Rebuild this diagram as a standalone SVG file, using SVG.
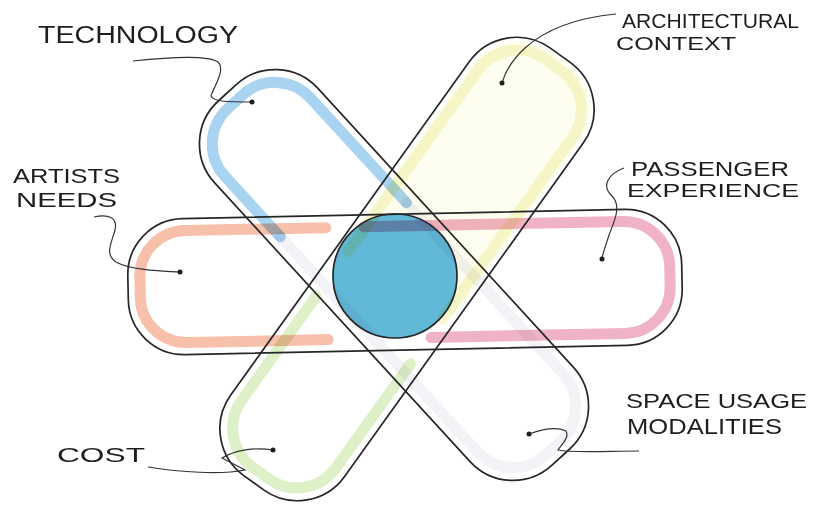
<svg xmlns="http://www.w3.org/2000/svg" width="819" height="514" viewBox="0 0 819 514">
<style>
.outline{fill:none;stroke:#262626;stroke-width:1.7}
.hl{fill:none;stroke-width:11;stroke-linecap:round;stroke-linejoin:round;mix-blend-mode:multiply}
.lbl{font-family:"Liberation Sans",Arial,sans-serif;fill:#1e1e1e}
.leader{fill:none;stroke:#333;stroke-width:1.2}
.dot{fill:#1e1e1e}
</style>
<rect width="819" height="514" fill="#ffffff"/>

<!-- faint yellow wash -->
<path transform="translate(407,269) rotate(125.6)" d="M 10,-66 L -205,-66 A 56 56 0 0 0 -261,-10 L -261,10 A 56 56 0 0 0 -205,66 L 10,66 Z" fill="#fdfdf0" style="mix-blend-mode:multiply"/>

<g id="center-circle">
<circle cx="395" cy="276" r="62" fill="#62b8d7"/>
</g>

<g id="technology">
<path class="hl" stroke="#a8d3f1" transform="translate(394,275) rotate(47.5)" d="M -105,58 L -187,58 A 48 48 0 0 1 -235,10 L -235,-10 A 48 48 0 0 1 -187,-58 L -45,-58"/>
<text class="lbl" x="38" y="43" font-size="23" textLength="200" lengthAdjust="spacingAndGlyphs">TECHNOLOGY</text>
</g>
<g id="space-usage-modalities">
<path class="hl" stroke="#f3f2f7" transform="translate(394,275) rotate(47.5)" d="M -45,-58 L 187,-58 A 48 48 0 0 1 235,-10 L 235,10 A 48 48 0 0 1 187,58 L -105,58"/>
<text class="lbl" x="626" y="408" font-size="21" textLength="181" lengthAdjust="spacingAndGlyphs">SPACE USAGE</text>
<text class="lbl" x="627" y="434" font-size="22" textLength="155" lengthAdjust="spacingAndGlyphs">MODALITIES</text>
</g>
<g id="architectural-context">
<path class="hl" stroke="#f7f7d2" transform="translate(407,269) rotate(125.6)" d="M 20,58 L -203,58 A 48 48 0 0 1 -251,10 L -251,-10 A 48 48 0 0 1 -203,-58 L 20,-58"/>
<text class="lbl" x="622" y="28" font-size="20" textLength="177" lengthAdjust="spacingAndGlyphs">ARCHITECTURAL</text>
<text class="lbl" x="616" y="50" font-size="19" textLength="120" lengthAdjust="spacingAndGlyphs">CONTEXT</text>
</g>
<g id="cost">
<path class="hl" stroke="#def0c8" transform="translate(407,269) rotate(125.6)" d="M 75,-58 L 203,-58 A 48 48 0 0 1 251,-10 L 251,10 A 48 48 0 0 1 203,58 L 75,58"/>
<text class="lbl" x="57" y="462" font-size="21" textLength="88" lengthAdjust="spacingAndGlyphs">COST</text>
</g>
<g id="artists-needs">
<path class="hl" stroke="#f7c0ab" transform="translate(405,282) rotate(-1.2)" d="M -78,-56 L -219,-56 A 46 46 0 0 0 -265,-10 L -265,10 A 46 46 0 0 0 -219,56 L -78,56"/>
<text class="lbl" x="13" y="183" font-size="20" textLength="107" lengthAdjust="spacingAndGlyphs">ARTISTS</text>
<text class="lbl" x="16" y="207" font-size="20" textLength="101" lengthAdjust="spacingAndGlyphs">NEEDS</text>
</g>
<g id="passenger-experience">
<path class="hl" stroke="#f0b3c6" transform="translate(405,282) rotate(-1.2)" d="M -40,-56 L 219,-56 A 46 46 0 0 1 265,-10 L 265,10 A 46 46 0 0 1 219,56 L 25,56"/>
<text class="lbl" x="631" y="176" font-size="20" textLength="158" lengthAdjust="spacingAndGlyphs">PASSENGER</text>
<text class="lbl" x="627" y="197" font-size="18" textLength="172" lengthAdjust="spacingAndGlyphs">EXPERIENCE</text>
</g>

<g id="band-outlines">
<rect class="outline" x="-247" y="-70" width="494" height="140" rx="58" transform="translate(394,275) rotate(47.5)"/>
<rect class="outline" x="-263" y="-70" width="526" height="140" rx="58" transform="translate(407,269) rotate(125.6)"/>
<rect class="outline" x="-277" y="-68" width="554" height="136" rx="56" transform="translate(405,282) rotate(-1.2)"/>
<circle class="outline" cx="395" cy="276" r="62"/>
</g>

<g id="connectors">
<path class="leader" d="M 133,61 C 170,57 208,55 218,62 C 226,70 214,86 211,96 C 214,102 228,102 252,102"/>
<path class="leader" d="M 94,217 C 108,214 118,217 115,230 C 112,242 104,254 116,262 C 130,270 160,271 180,272"/>
<path class="leader" d="M 616,14 C 575,18 545,30 525,48 C 512,60 505,72 502,83"/>
<path class="leader" d="M 624,168 C 608,174 601,186 612,196 C 622,206 614,222 609,235 C 606,245 603,252 602,259"/>
<path class="leader" d="M 529,434 C 540,430 556,426 566,431 C 570,438 560,446 558,450 C 570,453 610,451 639,451"/>
<path class="leader" d="M 148,467 C 180,472 220,475 245,470 L 222,458 C 235,450 255,447 273,450"/>
<circle class="dot" cx="252" cy="102" r="2.5"/>
<circle class="dot" cx="180" cy="272" r="2.5"/>
<circle class="dot" cx="502" cy="83" r="2.5"/>
<circle class="dot" cx="602" cy="259" r="2.5"/>
<circle class="dot" cx="529" cy="434" r="2.5"/>
<circle class="dot" cx="273" cy="450" r="2.5"/>
</g>
</svg>
